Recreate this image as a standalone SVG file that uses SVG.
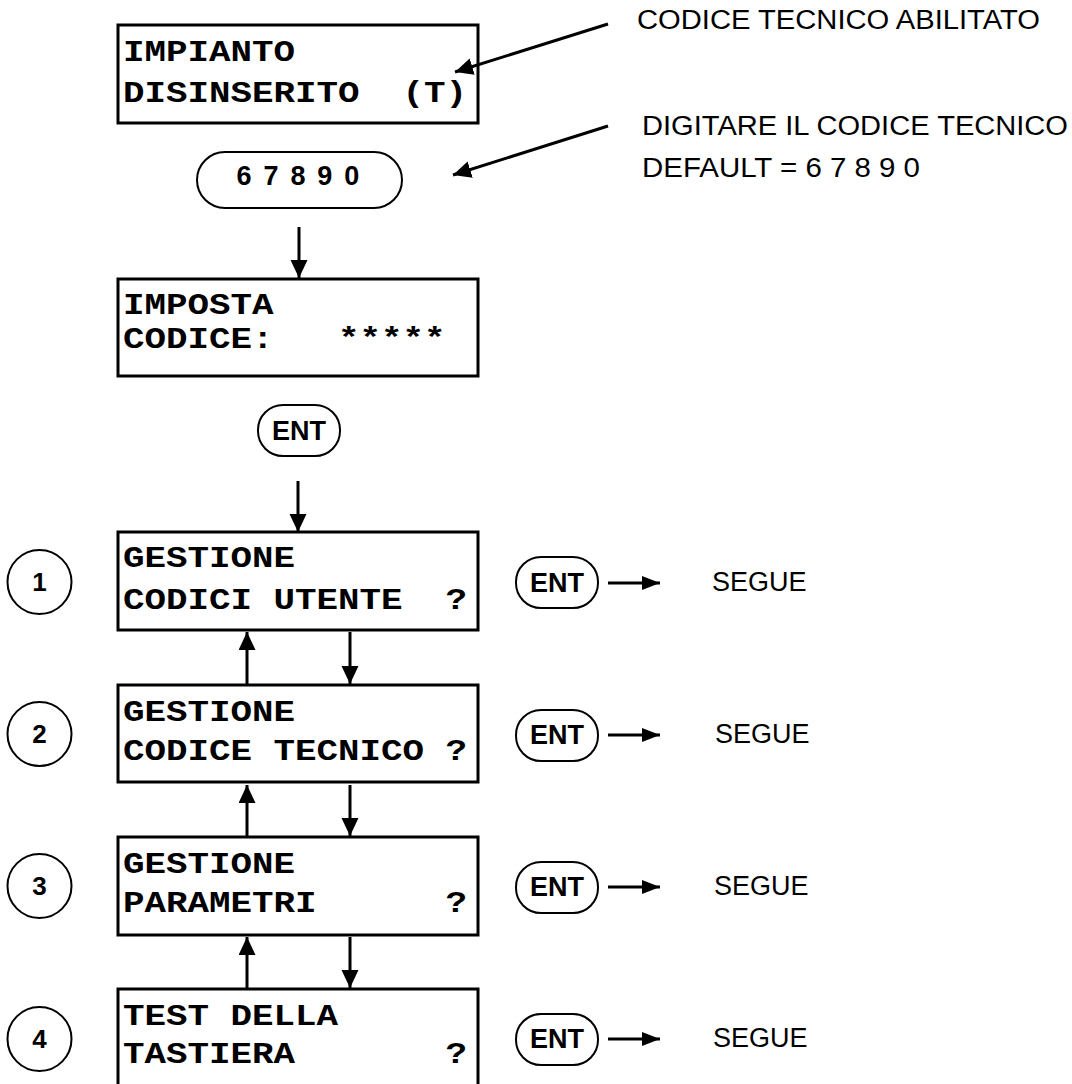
<svg xmlns="http://www.w3.org/2000/svg" width="1072" height="1084" viewBox="0 0 1072 1084">
<style>
.box{fill:#fff;stroke:#000;stroke-width:3}
.pill{fill:#fff;stroke:#000;stroke-width:2}
.num{fill:#fff;stroke:#000;stroke-width:2}
.lcd{font-family:"Liberation Mono","Courier New",monospace;font-weight:bold;font-size:29px;fill:#000;white-space:pre}
.key{font-family:"Liberation Sans",Arial,sans-serif;font-weight:bold;font-size:27px;fill:#000;text-anchor:middle}
.lbl{font-family:"Liberation Sans",Arial,sans-serif;font-size:27px;fill:#000}
.cn{font-family:"Liberation Sans",Arial,sans-serif;font-weight:bold;font-size:26px;fill:#000;text-anchor:middle}
.ln{stroke:#000;stroke-width:3;fill:none;marker-end:url(#ah)}
.lnr{stroke:#000;stroke-width:3;fill:none;marker-end:url(#ahs)}
</style>
<defs>
<marker id="ah" markerUnits="userSpaceOnUse" markerWidth="18" markerHeight="18" refX="18" refY="8.5" orient="auto">
<path d="M0,0 L18,8.5 L0,17 z" fill="#000"/>
</marker>
<marker id="ahs" markerUnits="userSpaceOnUse" markerWidth="18" markerHeight="14" refX="18" refY="7" orient="auto">
<path d="M0,0 L18,7 L0,14 z" fill="#000"/>
</marker>
</defs>

<g id="display-impianto">
<rect class="box" x="118" y="25" width="360" height="98"/>
<text class="lcd" x="123" y="61" textLength="172" lengthAdjust="spacingAndGlyphs" xml:space="preserve">IMPIANTO</text>
<text class="lcd" x="123" y="102" textLength="344" lengthAdjust="spacingAndGlyphs" xml:space="preserve">DISINSERITO  (T)</text>
</g>

<g id="key-67890">
<rect class="pill" x="197" y="152" width="205" height="56" rx="28" ry="28"/>
<text class="key" x="299" y="185" font-size="25" letter-spacing="2.2" xml:space="preserve">6 7 8 9 0</text>
</g>

<g id="display-imposta">
<rect class="box" x="118" y="279" width="360" height="97"/>
<text class="lcd" x="123" y="314" textLength="150.5" lengthAdjust="spacingAndGlyphs" xml:space="preserve">IMPOSTA</text>
<text class="lcd" x="123" y="348" textLength="322.5" lengthAdjust="spacingAndGlyphs" xml:space="preserve">CODICE:   *****</text>
</g>

<g id="key-ent-main">
<rect class="pill" x="258" y="405" width="82" height="51" rx="25" ry="25"/>
<text class="key" x="299" y="440">ENT</text>
</g>

<g id="menu-1">
<rect class="box" x="118" y="532" width="360" height="98"/>
<text class="lcd" x="123" y="567" textLength="172" lengthAdjust="spacingAndGlyphs" xml:space="preserve">GESTIONE</text>
<text class="lcd" x="123" y="609" textLength="344" lengthAdjust="spacingAndGlyphs" xml:space="preserve">CODICI UTENTE  ?</text>
</g>
<g id="menu-2">
<rect class="box" x="118" y="685" width="360" height="97"/>
<text class="lcd" x="123" y="721" textLength="172" lengthAdjust="spacingAndGlyphs" xml:space="preserve">GESTIONE</text>
<text class="lcd" x="123" y="760" textLength="344" lengthAdjust="spacingAndGlyphs" xml:space="preserve">CODICE TECNICO ?</text>
</g>
<g id="menu-3">
<rect class="box" x="118" y="837" width="360" height="98"/>
<text class="lcd" x="123" y="873" textLength="172" lengthAdjust="spacingAndGlyphs" xml:space="preserve">GESTIONE</text>
<text class="lcd" x="123" y="912" textLength="344" lengthAdjust="spacingAndGlyphs" xml:space="preserve">PARAMETRI      ?</text>
</g>
<g id="menu-4">
<rect class="box" x="118" y="989" width="360" height="100"/>
<text class="lcd" x="123" y="1025" textLength="215" lengthAdjust="spacingAndGlyphs" xml:space="preserve">TEST DELLA</text>
<text class="lcd" x="123" y="1063" textLength="344" lengthAdjust="spacingAndGlyphs" xml:space="preserve">TASTIERA       ?</text>
</g>

<g id="num-1"><circle class="num" cx="39.5" cy="582" r="32"/><text class="cn" x="39.5" y="591">1</text></g>
<g id="num-2"><circle class="num" cx="39.5" cy="734" r="32"/><text class="cn" x="39.5" y="743">2</text></g>
<g id="num-3"><circle class="num" cx="39.5" cy="886" r="32"/><text class="cn" x="39.5" y="895">3</text></g>
<g id="num-4"><circle class="num" cx="39.5" cy="1039" r="32"/><text class="cn" x="39.5" y="1048">4</text></g>

<g id="ent-1"><rect class="pill" x="516" y="557" width="82" height="51" rx="25" ry="25"/><text class="key" x="557" y="592">ENT</text></g>
<g id="ent-2"><rect class="pill" x="516" y="710" width="82" height="51" rx="25" ry="25"/><text class="key" x="557" y="744">ENT</text></g>
<g id="ent-3"><rect class="pill" x="516" y="862" width="82" height="51" rx="25" ry="25"/><text class="key" x="557" y="896">ENT</text></g>
<g id="ent-4"><rect class="pill" x="516" y="1014" width="82" height="51" rx="25" ry="25"/><text class="key" x="557" y="1048">ENT</text></g>

<g id="segue-1"><text class="lbl" x="712" y="591">SEGUE</text></g>
<g id="segue-2"><text class="lbl" x="715" y="743">SEGUE</text></g>
<g id="segue-3"><text class="lbl" x="714" y="895">SEGUE</text></g>
<g id="segue-4"><text class="lbl" x="713" y="1047">SEGUE</text></g>

<g id="note-abilitato"><text class="lbl" x="637" y="29" textLength="403" lengthAdjust="spacingAndGlyphs">CODICE TECNICO ABILITATO</text></g>
<g id="note-digitare">
<text class="lbl" x="642" y="135" textLength="426" lengthAdjust="spacingAndGlyphs">DIGITARE IL CODICE TECNICO</text>
<text class="lbl" x="642" y="177" textLength="278" lengthAdjust="spacingAndGlyphs">DEFAULT = 6 7 8 9 0</text>
</g>

<g id="connectors">
<line class="ln" x1="608" y1="24" x2="455" y2="72"/>
<line class="ln" x1="608" y1="126" x2="453" y2="175"/>
<line class="ln" x1="299" y1="227" x2="299" y2="278"/>
<line class="ln" x1="298" y1="481" x2="298" y2="532"/>
<line class="ln" x1="247" y1="685" x2="247" y2="632"/>
<line class="ln" x1="350" y1="632" x2="350" y2="684"/>
<line class="ln" x1="247" y1="837" x2="247" y2="785"/>
<line class="ln" x1="350" y1="785" x2="350" y2="836"/>
<line class="ln" x1="247" y1="989" x2="247" y2="937"/>
<line class="ln" x1="350" y1="937" x2="350" y2="988"/>
<line class="lnr" x1="608" y1="583" x2="660" y2="583"/>
<line class="lnr" x1="608" y1="735" x2="660" y2="735"/>
<line class="lnr" x1="608" y1="887" x2="660" y2="887"/>
<line class="lnr" x1="608" y1="1039" x2="660" y2="1039"/>
</g>
</svg>
